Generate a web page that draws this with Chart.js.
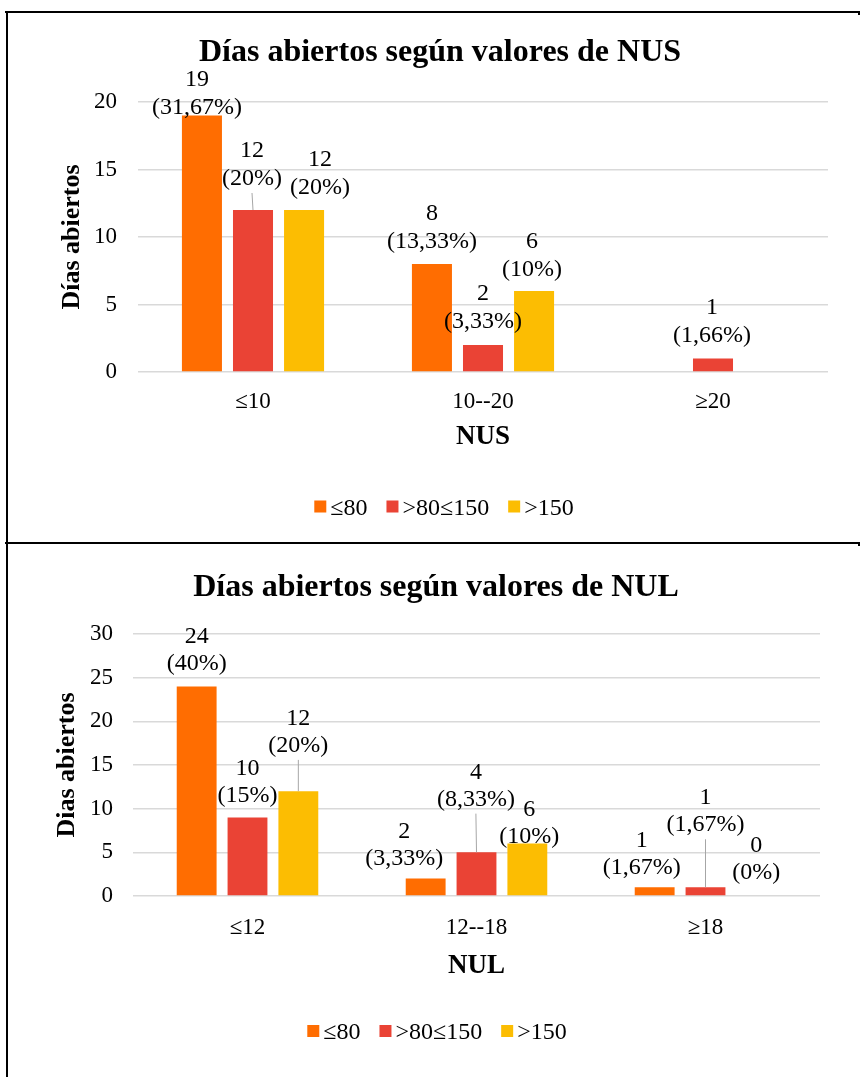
<!DOCTYPE html>
<html>
<head>
<meta charset="utf-8">
<script src="https://cdn.jsdelivr.net/npm/chart.js@4.4.1/dist/chart.umd.min.js"></script>
<style>
  body { margin: 0; background: #fff; }
  #page { position: relative; width: 861px; height: 1077px; overflow: hidden; }
  canvas { position: absolute; left: 0; }
  .rule { position: absolute; background: #000; z-index: 2; }
</style>
</head>
<body>
<div id="page">
  <canvas id="chartNUS" width="861" height="543" style="top:0"></canvas>
  <canvas id="chartNUL" width="861" height="534" style="top:543px"></canvas>
  <div class="rule" style="left:5px;top:11px;width:855px;height:2px"></div>
  <div class="rule" style="left:858px;top:11px;width:2px;height:4px"></div>
  <div class="rule" style="left:6px;top:11px;width:2px;height:1066px"></div>
  <div class="rule" style="left:5px;top:542px;width:855px;height:2px"></div>
  <div class="rule" style="left:858px;top:542px;width:2px;height:4px"></div>
</div>
<script>
// ---- datos ----
const seriesNames = ['≤80', '>80≤150', '>150'];
const seriesColors = ['#FF6D01', '#EA4335', '#FCBD02'];

// Grafico 1: NUS
const categoriesNUS = ['≤10', '10--20', '≥20'];
const nusLow = [19, 8, 0];
const nusMid = [12, 2, 1];
const nusHigh = [12, 6, 0];
const nusLowText = [['19', '(31,67%)'], ['8', '(13,33%)'], null];
const nusMidText = [['12', '(20%)'], ['2', '(3,33%)'], ['1', '(1,66%)']];
const nusHighText = [['12', '(20%)'], ['6', '(10%)'], null];
const nusTicks = [0, 5, 10, 15, 20];

// Grafico 2: NUL
const categoriesNUL = ['≤12', '12--18', '≥18'];
const nulLow = [24, 2, 1];
const nulMid = [9, 5, 1];
const nulHigh = [12, 6, 0];
const nulLowText = [['24', '(40%)'], ['2', '(3,33%)'], ['1', '(1,67%)']];
const nulMidText = [['10', '(15%)'], ['4', '(8,33%)'], ['1', '(1,67%)']];
const nulHighText = [['12', '(20%)'], ['6', '(10%)'], ['0', '(0%)']];
const nulTicks = [0, 5, 10, 15, 20, 25, 30];

// posicion manual de etiquetas (como en Excel): [dx, dy primera linea, linea guia]
const nusPlace = [
  [[-5, -37.5, 0], [0, -52, 0], null],
  [[-1, -61, 1], [0, -53, 0], [-1, -52.5, 0]],
  [[16, -52, 0], [-2, -51, 0], null]
];
const nulPlace = [
  [[0, -51.4, 0], [-21.5, -48.3, 0], [-13, -48.7, 0]],
  [[0, -50, 0], [-0.6, -81.7, 1], [0, -91, 1]],
  [[0, -74.3, 1], [2, -35.7, 0], [0, -52.4, 0]]
];

const FONT = "'Liberation Serif', 'Times New Roman', serif";

// etiquetas de datos, titulo y leyenda dibujados a mano
const decorPlugin = {
  id: 'decor',
  afterDatasetsDraw(chart, args, opts) {
    const ctx = chart.ctx;
    ctx.save();
    ctx.font = '24px ' + FONT;
    ctx.textAlign = 'center';
    ctx.textBaseline = 'alphabetic';
    opts.texts.forEach((texts, i) => {
      const meta = chart.getDatasetMeta(i);
      texts.forEach((t, j) => {
        if (!t) return;
        const bar = meta.data[j];
        const p = opts.place[i][j];
        const x = bar.x + p[0];
        const y1 = bar.y + p[1];
        const y2 = y1 + opts.lineGap;
        if (p[2]) {
          ctx.strokeStyle = '#A6A6A6';
          ctx.lineWidth = 1;
          ctx.beginPath();
          ctx.moveTo(x, y2 + 16);
          ctx.lineTo(bar.x, bar.y);
          ctx.stroke();
        }
        ctx.fillStyle = '#000';
        ctx.fillText(t[0], x, y1 + 8);
        ctx.fillText(t[1], x, y2 + 8);
      });
    });

    // titulo
    ctx.font = 'bold 32px ' + FONT;
    ctx.fillText(opts.title, opts.titleX, opts.titleY);

    // leyenda
    ctx.font = '24px ' + FONT;
    ctx.textAlign = 'left';
    const box = 12, gap = 4, itemGap = 19;
    let total = 0;
    const widths = seriesNames.map(n => ctx.measureText(n).width);
    widths.forEach(w => total += box + gap + w);
    total += itemGap * (seriesNames.length - 1);
    let x = opts.legendX - total / 2;
    seriesNames.forEach((n, i) => {
      ctx.fillStyle = seriesColors[i];
      ctx.fillRect(x, opts.legendY - box / 2, box, box);
      ctx.fillStyle = '#000';
      ctx.fillText(n, x + box + gap, opts.legendY + 8);
      x += box + gap + widths[i] + itemGap;
    });
    ctx.restore();
  }
};

function makeChart(id, cfg) {
  return new Chart(document.getElementById(id), {
    type: 'bar',
    data: {
      labels: cfg.categories,
      datasets: cfg.series.map((s, i) => ({
        label: seriesNames[i],
        data: s,
        backgroundColor: seriesColors[i],
        categoryPercentage: 0.666,
        barPercentage: 0.784
      }))
    },
    options: {
      responsive: false,
      animation: false,
      layout: { padding: cfg.padding },
      plugins: {
        legend: { display: false },
        tooltip: { enabled: false },
        title: { display: false },
        decor: cfg.decor
      },
      scales: {
        x: {
          grid: { display: false },
          border: { display: false },
          ticks: { color: '#000', font: { family: FONT, size: 23 }, padding: cfg.xTickPad },
          title: {
            display: true, text: cfg.xTitle, color: '#000',
            font: { family: FONT, size: 27, weight: 'bold' },
            padding: { top: 0, bottom: 0 }
          },
          afterFit(scale) { scale.height = cfg.xHeight; }
        },
        y: {
          min: 0,
          max: cfg.ticks[cfg.ticks.length - 1],
          afterBuildTicks(scale) { scale.ticks = cfg.ticks.map(v => ({ value: v })); },
          grid: { color: '#D9D9D9', lineWidth: 1.5, drawTicks: false },
          border: { display: false },
          ticks: { color: '#000', font: { family: FONT, size: 23 }, padding: cfg.yTickPad },
          title: {
            display: true, text: cfg.yTitle, color: '#000',
            font: { family: FONT, size: 26, weight: 'bold' },
            padding: { top: cfg.yTitlePad, bottom: 0 }
          },
          afterFit(scale) { scale.width = cfg.yWidth; }
        }
      }
    },
    plugins: [decorPlugin]
  });
}

makeChart('chartNUS', {
  categories: categoriesNUS,
  series: [nusLow, nusMid, nusHigh],
  ticks: nusTicks,
  xTitle: 'NUS',
  yTitle: 'Días abiertos',
  padding: { left: 0, right: 33, top: 102, bottom: 90 },
  xHeight: 81,
  xTickPad: 8,
  yWidth: 138,
  yTickPad: 21,
  yTitlePad: 57,
  decor: {
    texts: [nusLowText, nusMidText, nusHighText],
    place: nusPlace,
    lineGap: 28,
    title: 'Días abiertos según valores de NUS',
    titleX: 440, titleY: 61,
    legendX: 444, legendY: 506.5
  }
});

makeChart('chartNUL', {
  categories: categoriesNUL,
  series: [nulLow, nulMid, nulHigh],
  ticks: nulTicks,
  xTitle: 'NUL',
  yTitle: 'Dias abiertos',
  padding: { left: 0, right: 41, top: 91, bottom: 95 },
  xHeight: 86,
  xTickPad: 10,
  yWidth: 133,
  yTickPad: 20,
  yTitlePad: 52,
  decor: {
    texts: [nulLowText, nulMidText, nulHighText],
    place: nulPlace,
    lineGap: 27,
    title: 'Días abiertos según valores de NUL',
    titleX: 436, titleY: 53,
    legendX: 437, legendY: 488
  }
});
</script>
</body>
</html>
